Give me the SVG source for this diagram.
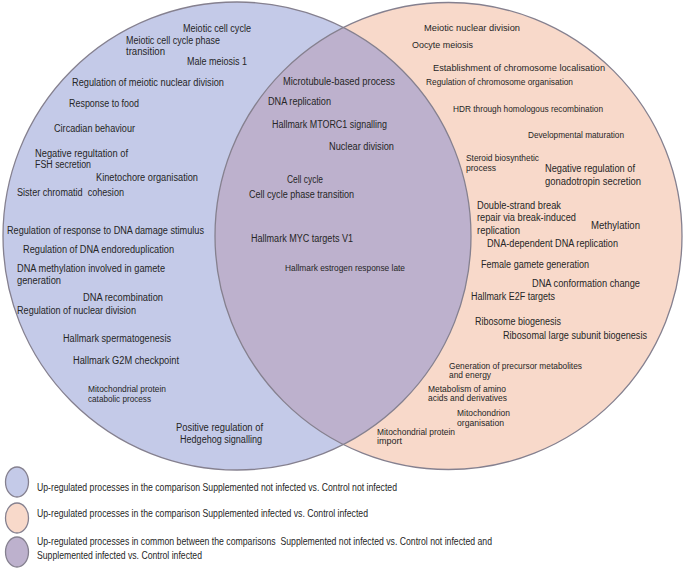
<svg xmlns="http://www.w3.org/2000/svg" width="685" height="568" viewBox="0 0 685 568">
<style>
text{font-family:"Liberation Sans",Arial,sans-serif;fill:#262626}
.c{font-size:10px}
.a{font-size:9px}
.lg{font-size:10.5px}
.pre{white-space:pre}
.ring{stroke:#85808f;stroke-width:1.3}
</style>
<defs>
<clipPath id="clipL"><circle cx="237" cy="236" r="234"/></clipPath>
</defs>
<rect width="685" height="568" fill="#ffffff"/>
<g id="set-left"><circle cx="237" cy="236" r="234" fill="#c4cae8"/></g>
<g id="set-right"><circle cx="448.5" cy="236" r="233.5" fill="#f8d9ca"/></g>
<g id="set-overlap"><circle cx="448.5" cy="236" r="233.5" fill="#bdb1cd" clip-path="url(#clipL)"/></g>
<g id="outlines" fill="none">
<circle class="ring" cx="237" cy="236" r="234"/>
<circle class="ring" cx="448.5" cy="236" r="233.5"/>
</g>
<g id="labels-left" class="c">
<text x="183" y="32" textLength="68" lengthAdjust="spacingAndGlyphs">Meiotic cell cycle</text>
<text x="126" y="44" textLength="94" lengthAdjust="spacingAndGlyphs">Meiotic cell cycle phase</text>
<text x="126" y="55" textLength="39" lengthAdjust="spacingAndGlyphs">transition</text>
<text x="187" y="65" textLength="60" lengthAdjust="spacingAndGlyphs">Male meiosis 1</text>
<text x="72" y="86" textLength="152" lengthAdjust="spacingAndGlyphs">Regulation of meiotic nuclear division</text>
<text x="69" y="107" textLength="70" lengthAdjust="spacingAndGlyphs">Response to food</text>
<text x="54" y="132" textLength="81" lengthAdjust="spacingAndGlyphs">Circadian behaviour</text>
<text x="35" y="157" textLength="93" lengthAdjust="spacingAndGlyphs">Negative regultation of</text>
<text x="35" y="168" textLength="56" lengthAdjust="spacingAndGlyphs">FSH secretion</text>
<text x="96" y="181" textLength="102" lengthAdjust="spacingAndGlyphs">Kinetochore organisation</text>
<text class="pre" x="17" y="196" textLength="107" lengthAdjust="spacingAndGlyphs">Sister chromatid  cohesion</text>
<text x="7" y="234" textLength="197" lengthAdjust="spacingAndGlyphs">Regulation of response to DNA damage stimulus</text>
<text x="23" y="253" textLength="151" lengthAdjust="spacingAndGlyphs">Regulation of DNA endoreduplication</text>
<text x="17" y="272" textLength="148" lengthAdjust="spacingAndGlyphs">DNA methylation involved in gamete</text>
<text x="17" y="284" textLength="44" lengthAdjust="spacingAndGlyphs">generation</text>
<text x="83" y="301" textLength="80" lengthAdjust="spacingAndGlyphs">DNA recombination</text>
<text x="17" y="314" textLength="119" lengthAdjust="spacingAndGlyphs">Regulation of nuclear division</text>
<text x="63" y="342" textLength="108" lengthAdjust="spacingAndGlyphs">Hallmark spermatogenesis</text>
<text x="73" y="364" textLength="106" lengthAdjust="spacingAndGlyphs">Hallmark G2M checkpoint</text>
<text class="a" x="88" y="392" textLength="78" lengthAdjust="spacingAndGlyphs">Mitochondrial protein</text>
<text class="a" x="88" y="402" textLength="63" lengthAdjust="spacingAndGlyphs">catabolic process</text>
<text x="176" y="431" textLength="87" lengthAdjust="spacingAndGlyphs">Positive regulation of</text>
<text x="180" y="443" textLength="82" lengthAdjust="spacingAndGlyphs">Hedgehog signalling</text>
</g>
<g id="labels-overlap" class="c">
<text x="283" y="85" textLength="112" lengthAdjust="spacingAndGlyphs">Microtubule-based process</text>
<text x="268" y="105" textLength="63" lengthAdjust="spacingAndGlyphs">DNA replication</text>
<text x="272" y="128" textLength="115" lengthAdjust="spacingAndGlyphs">Hallmark MTORC1 signalling</text>
<text x="329" y="150" textLength="65" lengthAdjust="spacingAndGlyphs">Nuclear division</text>
<text x="287" y="183" textLength="36" lengthAdjust="spacingAndGlyphs">Cell cycle</text>
<text x="249" y="198" textLength="105" lengthAdjust="spacingAndGlyphs">Cell cycle phase transition</text>
<text x="251" y="242" textLength="102" lengthAdjust="spacingAndGlyphs">Hallmark MYC targets V1</text>
<text class="a" x="285" y="271" textLength="120" lengthAdjust="spacingAndGlyphs">Hallmark estrogen response late</text>
</g>
<g id="labels-right" class="a">
<text x="424" y="31" textLength="96" lengthAdjust="spacingAndGlyphs">Meiotic nuclear division</text>
<text x="412" y="48" textLength="61" lengthAdjust="spacingAndGlyphs">Oocyte meiosis</text>
<text x="433" y="71" textLength="172" lengthAdjust="spacingAndGlyphs">Establishment of chromosome localisation</text>
<text x="426" y="85" textLength="147" lengthAdjust="spacingAndGlyphs">Regulation of chromosome organisation</text>
<text x="453" y="112" textLength="150" lengthAdjust="spacingAndGlyphs">HDR through homologous recombination</text>
<text x="528" y="138" textLength="96" lengthAdjust="spacingAndGlyphs">Developmental maturation</text>
<text x="466" y="161" textLength="73" lengthAdjust="spacingAndGlyphs">Steroid biosynthetic</text>
<text x="466" y="171" textLength="30" lengthAdjust="spacingAndGlyphs">process</text>
<text class="c" x="545" y="172" textLength="90" lengthAdjust="spacingAndGlyphs">Negative regulation of</text>
<text class="c" x="545" y="185" textLength="96" lengthAdjust="spacingAndGlyphs">gonadotropin secretion</text>
<text class="c" x="477" y="209" textLength="84" lengthAdjust="spacingAndGlyphs">Double-strand break</text>
<text class="c" x="477" y="221" textLength="99" lengthAdjust="spacingAndGlyphs">repair via break-induced</text>
<text class="c" x="477" y="234" textLength="43" lengthAdjust="spacingAndGlyphs">replication</text>
<text class="c" x="591" y="229" textLength="49" lengthAdjust="spacingAndGlyphs">Methylation</text>
<text class="c" x="487" y="247" textLength="131" lengthAdjust="spacingAndGlyphs">DNA-dependent DNA replication</text>
<text class="c" x="481" y="268" textLength="108" lengthAdjust="spacingAndGlyphs">Female gamete generation</text>
<text class="c" x="532" y="287" textLength="108" lengthAdjust="spacingAndGlyphs">DNA conformation change</text>
<text class="c" x="471" y="300" textLength="84" lengthAdjust="spacingAndGlyphs">Hallmark E2F targets</text>
<text class="c" x="475" y="325" textLength="86" lengthAdjust="spacingAndGlyphs">Ribosome biogenesis</text>
<text class="c" x="503" y="339" textLength="144" lengthAdjust="spacingAndGlyphs">Ribosomal large subunit biogenesis</text>
<text x="449" y="369" textLength="133" lengthAdjust="spacingAndGlyphs">Generation of precursor metabolites</text>
<text x="449" y="378" textLength="42" lengthAdjust="spacingAndGlyphs">and energy</text>
<text x="428" y="392" textLength="78" lengthAdjust="spacingAndGlyphs">Metabolism of amino</text>
<text x="428" y="401" textLength="79" lengthAdjust="spacingAndGlyphs">acids and derivatives</text>
<text x="457" y="416" textLength="53" lengthAdjust="spacingAndGlyphs">Mitochondrion</text>
<text x="457" y="426" textLength="47" lengthAdjust="spacingAndGlyphs">organisation</text>
<text x="377" y="435" textLength="78" lengthAdjust="spacingAndGlyphs">Mitochondrial protein</text>
<text x="377" y="444" textLength="25" lengthAdjust="spacingAndGlyphs">import</text>
</g>
<g id="legend" class="lg">
<g id="legend-left">
<ellipse class="ring" cx="17" cy="482" rx="11.5" ry="15" fill="#c4cae8"/>
<text x="37" y="491" textLength="360" lengthAdjust="spacingAndGlyphs">Up-regulated processes in the comparison Supplemented not infected vs. Control not infected</text>
</g>
<g id="legend-right">
<ellipse class="ring" cx="17" cy="518" rx="11.5" ry="15" fill="#f8d9ca"/>
<text x="37" y="517" textLength="331" lengthAdjust="spacingAndGlyphs">Up-regulated processes in the comparison Supplemented infected vs. Control infected</text>
</g>
<g id="legend-overlap">
<ellipse class="ring" cx="17" cy="552" rx="11.5" ry="15" fill="#bdb1cd"/>
<text class="pre" x="37" y="545" textLength="455" lengthAdjust="spacingAndGlyphs">Up-regulated processes in common between the comparisons  Supplemented not infected vs. Control not infected and</text>
<text x="37" y="559" textLength="165" lengthAdjust="spacingAndGlyphs">Supplemented infected vs. Control infected</text>
</g>
</g>
</svg>
